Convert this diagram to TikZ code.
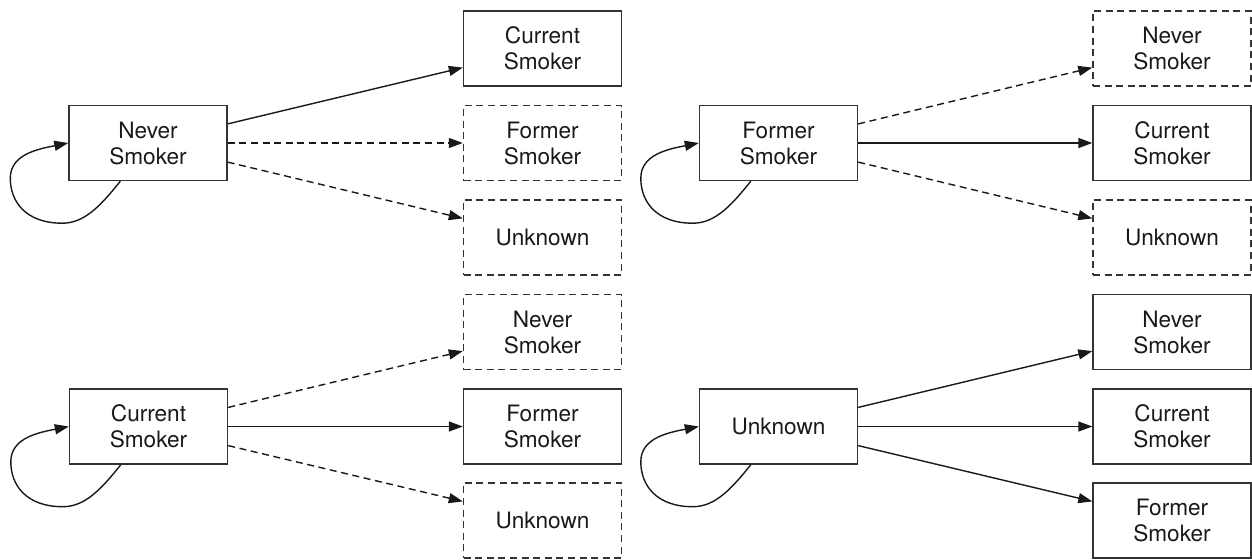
\documentclass[tikz,border=0pt]{standalone}
\usepackage{fontspec}
\setmainfont{TeX Gyre Heros}
\usetikzlibrary{arrows.meta,calc}
\newcommand\drawselfloop[1]{%
  \draw[solidarrow] ($(#1.south west)+(52,0)$)
    .. controls +(-20,25) and +(22,0) .. ($(#1.south west)+(-6,42)$)
    .. controls +(-36,0) and +(0,24) .. ($(#1.south west)+(-58,-3)$)
    .. controls +(0,-24) and +(-30,6) .. (#1.west);}
\begin{document}
\begin{tikzpicture}[x=0.5pt,y=-0.5pt,
  state/.style={draw=black!80,line width=0.7pt,minimum width=79pt,minimum height=37.5pt,
    inner sep=0pt,align=center,font=\fontsize{11.3}{13}\selectfont,text=black!90},
  dashpat/.style={dash pattern=on 3.5pt off 2.3pt},
  solidarrow/.style={draw=black!90,line width=0.7pt,-{Triangle[length=7pt,width=5pt]}},
  dasharrow/.style={solidarrow,dashpat}]
\useasboundingbox (0,0) rectangle (1252,559);

% top-left group
\node[state] (a) at (148,143) {Never\\Smoker};
\node[state] (a1) at (542.5,48.5) {Current\\Smoker};
\node[state,dashpat] (a2) at (542.5,143) {Former\\Smoker};
\node[state,dashpat] (a3) at (542.5,237.5) {Unknown};
\draw[solidarrow] ($(a.north east)!0.25!(a.south east)$) -- ($(a1.north west)!0.75!(a1.south west)$);
\draw[dasharrow] (a.east) -- (a2.west);
\draw[dasharrow] ($(a.north east)!0.75!(a.south east)$) -- ($(a3.north west)!0.25!(a3.south west)$);
\drawselfloop{a}

% top-right group
\node[state] (b) at (778.5,143) {Former\\Smoker};
\node[state,dashpat] (b1) at (1172,48.5) {Never\\Smoker};
\node[state] (b2) at (1172,143) {Current\\Smoker};
\node[state,dashpat] (b3) at (1172,237.5) {Unknown};
\draw[dasharrow] ($(b.north east)!0.25!(b.south east)$) -- ($(b1.north west)!0.75!(b1.south west)$);
\draw[solidarrow] (b.east) -- (b2.west);
\draw[dasharrow] ($(b.north east)!0.75!(b.south east)$) -- ($(b3.north west)!0.25!(b3.south west)$);
\drawselfloop{b}

% bottom-left group
\node[state] (c) at (148.5,426.5) {Current\\Smoker};
\node[state,dashpat] (c1) at (542.5,332) {Never\\Smoker};
\node[state] (c2) at (542.5,426.5) {Former\\Smoker};
\node[state,dashpat] (c3) at (542.5,520.5) {Unknown};
\draw[dasharrow] ($(c.north east)!0.25!(c.south east)$) -- ($(c1.north west)!0.75!(c1.south west)$);
\draw[solidarrow] (c.east) -- (c2.west);
\draw[dasharrow] ($(c.north east)!0.75!(c.south east)$) -- ($(c3.north west)!0.25!(c3.south west)$);
\drawselfloop{c}

% bottom-right group
\node[state] (d) at (778.5,426.5) {Unknown};
\node[state] (d1) at (1172,332) {Never\\Smoker};
\node[state] (d2) at (1172,426.5) {Current\\Smoker};
\node[state] (d3) at (1172,520.5) {Former\\Smoker};
\draw[solidarrow] ($(d.north east)!0.25!(d.south east)$) -- ($(d1.north west)!0.75!(d1.south west)$);
\draw[solidarrow] (d.east) -- (d2.west);
\draw[solidarrow] ($(d.north east)!0.75!(d.south east)$) -- ($(d3.north west)!0.25!(d3.south west)$);
\drawselfloop{d}
\end{tikzpicture}
\end{document}
